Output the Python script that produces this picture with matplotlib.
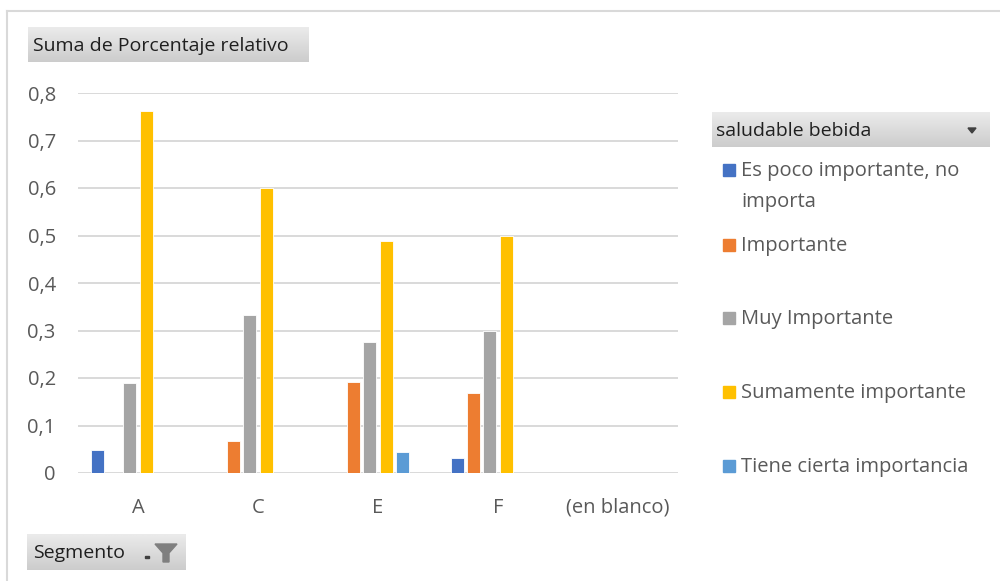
import numpy as np
import matplotlib.pyplot as plt
from matplotlib.patches import Rectangle, Polygon

plt.rcParams['font.family'] = ['Open Sans', 'DejaVu Sans']

# pivot data: Suma de Porcentaje relativo by Segmento and "saludable bebida"
categories = ["A", "C", "E", "F", "(en blanco)"]
series_names = [
    "Es poco importante, no\nimporta",
    "Importante",
    "Muy Importante",
    "Sumamente importante",
    "Tiene cierta importancia",
]
es_poco = [0.048, np.nan, np.nan, 0.032, np.nan]
importante = [np.nan, 0.067, 0.192, 0.168, np.nan]
muy_importante = [0.19, 0.333, 0.276, 0.30, np.nan]
sumamente = [0.762, 0.60, 0.488, 0.50, np.nan]
tiene_cierta = [np.nan, np.nan, 0.044, np.nan, np.nan]
yticks = [0, 0.1, 0.2, 0.3, 0.4, 0.5, 0.6, 0.7, 0.8]

values = [es_poco, importante, muy_importante, sumamente, tiene_cierta]
colors = ["#4472C4", "#ED7D31", "#A5A5A5", "#FFC000", "#5B9BD5"]
text_gray = "#595959"

fig = plt.figure(figsize=(10, 5.81), dpi=100)
W, H = 1000, 581


def fx(px):
    return px / W


def fy(py):
    return 1 - py / H


# outer chart border (top and left edges only are in view)
fig.add_artist(plt.Line2D([fx(7), 1], [fy(11), fy(11)], color="#D9D9D9", lw=1.5))
fig.add_artist(plt.Line2D([fx(7), fx(7)], [fy(11), 0], color="#D9D9D9", lw=1.5))

ax = fig.add_axes([fx(78), fy(473), fx(600), fy(93) - fy(473)])
x = np.arange(len(categories))
# the pivot keeps an empty slot for the blank series, so 6 slots per group
n_slots = len(values) + 1
slot = 0.136
bar_w = 0.106
for i, (vals, c) in enumerate(zip(values, colors)):
    off = (i - (n_slots - 1) / 2) * slot
    ax.bar(x + off, vals, width=bar_w, color=c, edgecolor="white", linewidth=0.6, zorder=3)

ax.set_xlim(-0.5, len(categories) - 0.5)
ax.set_ylim(0, 0.8)
ax.set_yticks(yticks)
ax.set_yticklabels([f"{v:g}".replace(".", ",") for v in yticks])
ax.set_xticks(x)
ax.set_xticklabels(categories)
ax.tick_params(axis="both", length=0, labelsize=14.5, colors=text_gray)
ax.tick_params(axis="y", pad=16)
ax.tick_params(axis="x", pad=18)
ax.grid(axis="y", color="#D9D9D9", lw=1.4, zorder=0)
for s in ax.spines.values():
    s.set_visible(False)


def button(x0, y0, x1, y1):
    bax = fig.add_axes([fx(x0), fy(y1), fx(x1 - x0), fy(y0) - fy(y1)])
    grad = np.linspace(0.92, 0.80, 50).reshape(-1, 1)
    bax.imshow(grad, aspect="auto", cmap="gray", vmin=0, vmax=1, extent=[0, 1, 0, 1])
    bax.set_xlim(0, 1)
    bax.set_ylim(0, 1)
    bax.axis("off")
    return bax


# field buttons
button(28, 27, 308, 62)
fig.text(fx(33), fy(46), "Suma de Porcentaje relativo", fontsize=14, color="#1F1F1F", va="center")

button(712, 112, 990, 147)
fig.text(fx(716), fy(131), "saludable bebida", fontsize=14, color="#1F1F1F", va="center")
fig.add_artist(Polygon([[fx(968), fy(128)], [fx(976), fy(128)], [fx(972), fy(133)]],
                       closed=True, color="#404040"))

button(27, 534, 186, 570)
fig.text(fx(33), fy(553), "Segmento", fontsize=14, color="#1F1F1F", va="center")
fig.add_artist(Rectangle((fx(145), fy(558)), fx(4), fy(556) - fy(558), color="#404040"))
funnel = [[155, 544], [177, 544], [169, 553], [169, 562], [163, 562], [163, 553]]
fig.add_artist(Polygon([[fx(a), fy(b)] for a, b in funnel], closed=True, color="#7F7F7F"))

# legend entries
legend_y = [170, 245, 318, 392, 466]
for name, c, ly in zip(series_names, colors, legend_y):
    fig.add_artist(Rectangle((fx(723), fy(ly + 6)), fx(12), fy(ly - 6) - fy(ly + 6), color=c))
    if "\n" in name:
        fig.text(fx(741), fy(ly - 9), name, fontsize=14.5, color=text_gray, va="top", linespacing=1.75)
    else:
        fig.text(fx(741), fy(ly + 1), name, fontsize=14.5, color=text_gray, va="center")

fig.savefig("out.png", dpi=100)
